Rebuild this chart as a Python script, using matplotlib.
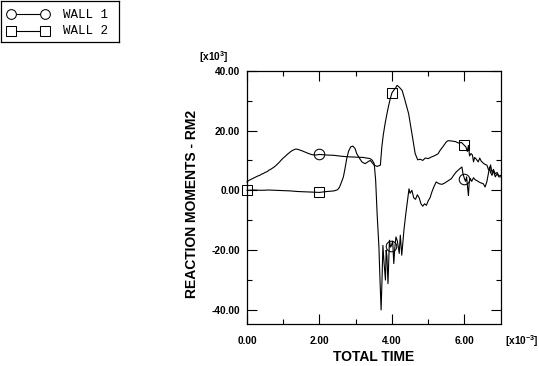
import matplotlib
matplotlib.use("Agg")
import matplotlib.pyplot as plt
from matplotlib.lines import Line2D
import numpy as np

# ---- data (time in 1e-3, moment in 1e3) ----
wall1_t = [0.00, 0.05, 0.10, 0.15, 0.20, 0.25, 0.30, 0.35, 0.40, 0.45, 0.50, 0.55,
           0.60, 0.65, 0.70, 0.75, 0.80, 0.85, 0.90, 0.95, 1.00, 1.05, 1.10, 1.15,
           1.20, 1.25, 1.30, 1.35, 1.40, 1.45, 1.50, 1.60, 1.70, 1.80, 1.90, 2.00,
           2.10, 2.20, 2.40, 2.60, 2.80, 3.00, 3.20, 3.40, 3.46, 3.51, 3.55, 3.59,
           3.64, 3.67, 3.70, 3.73, 3.75, 3.78, 3.82, 3.84, 3.86, 3.89, 3.93, 3.96,
           3.98, 4.02, 4.05, 4.08, 4.11, 4.15, 4.20, 4.23, 4.27, 4.33, 4.38, 4.43,
           4.47, 4.50, 4.55, 4.60, 4.65, 4.70, 4.75, 4.80, 4.85, 4.90, 4.95, 5.00,
           5.05, 5.10, 5.15, 5.22, 5.30, 5.38, 5.45, 5.55, 5.64, 5.70, 5.77, 5.85,
           5.93, 5.96, 6.00, 6.03, 6.06, 6.09, 6.11, 6.13, 6.16, 6.20, 6.25, 6.30,
           6.35, 6.40, 6.45, 6.52, 6.57, 6.62, 6.66, 6.69, 6.72, 6.76, 6.80, 6.85,
           6.90, 6.95, 7.00]
wall1_m = [2.8, 3.3, 3.6, 3.9, 4.2, 4.5, 4.8, 5.0, 5.4, 5.6, 6.0, 6.2,
           6.7, 7.0, 7.4, 7.8, 8.3, 8.9, 9.5, 10.2, 10.8, 11.3, 11.9, 12.4,
           12.9, 13.3, 13.6, 13.8, 13.7, 13.5, 13.3, 12.8, 12.3, 11.9, 11.8, 12.0,
           11.9, 11.8, 11.7, 11.4, 11.2, 11.1, 11.0, 10.6, 10.0, 8.9, 3.3, -7.8,
           -19.0, -30.0, -40.0, -28.0, -18.4, -24.0, -30.0, -20.0, -22.0, -31.2, -16.7, -19.0,
           -18.6, -17.0, -24.5, -19.0, -15.6, -17.0, -21.1, -15.0, -21.7, -13.3, -8.0, -3.3,
           0.5, -1.0, 0.0, -2.5, -3.0, -1.5, -2.5, -4.5, -5.3, -4.5, -5.0, -3.5,
           -2.5, -0.6, 1.0, 2.8, 2.2, 2.0, 2.4, 3.2, 3.9, 5.0, 6.1, 7.0,
           7.8, 5.5, 3.9, 3.0, 4.5, 0.5, -1.7, 2.5, 4.0, 3.0, 4.2, 3.5,
           3.2, 2.8, 2.5, 2.2, 1.1, 3.0, 5.6, 7.8, 6.0, 5.0, 6.5, 4.5,
           5.5, 4.5, 4.5]
wall1_marks = [2.00, 3.98, 6.00]

wall2_t = [0.00, 0.20, 0.40, 0.60, 0.80, 1.00, 1.20, 1.40, 1.60, 1.80, 2.00, 2.20,
           2.40, 2.50, 2.55, 2.60, 2.66, 2.70, 2.75, 2.80, 2.86, 2.92, 2.98, 3.03,
           3.10, 3.17, 3.26, 3.33, 3.40, 3.51, 3.59, 3.68, 3.72, 3.76, 3.81, 3.86,
           3.90, 3.95, 4.00, 4.05, 4.10, 4.14, 4.20, 4.28, 4.35, 4.46, 4.55, 4.64,
           4.71, 4.78, 4.85, 4.92, 5.00, 5.08, 5.18, 5.27, 5.33, 5.40, 5.50, 5.55,
           5.64, 5.75, 5.84, 5.92, 6.00, 6.04, 6.08, 6.11, 6.14, 6.18, 6.22, 6.25,
           6.28, 6.32, 6.38, 6.42, 6.46, 6.50, 6.55, 6.62, 6.66, 6.69, 6.72, 6.76,
           6.80, 6.85, 6.90, 6.95, 7.00]
wall2_m = [0.0, 0.1, 0.0, 0.1, 0.0, -0.1, -0.2, -0.4, -0.5, -0.6, -0.7, -0.4,
           -0.2, 0.2, 1.0, 2.5, 4.5, 7.0, 10.5, 13.0, 14.5, 14.8, 14.0, 12.2,
           10.8, 9.5, 8.9, 9.5, 10.0, 8.4, 8.0, 8.4, 14.5, 18.5, 22.3, 25.5,
           27.9, 30.5, 32.6, 33.5, 34.2, 35.1, 34.5, 33.4, 30.5, 25.6, 19.0, 12.3,
           10.2, 10.4, 10.0, 10.8, 10.6, 11.1, 11.6, 12.2, 13.4, 14.5, 16.2, 16.6,
           16.5, 16.3, 15.8, 16.0, 15.0, 14.5, 13.0, 15.0, 11.5, 12.3, 11.8, 9.5,
           11.0, 10.5, 9.5, 10.8, 9.8, 9.3, 8.8, 8.4, 7.0, 6.7, 8.5, 6.0,
           7.0, 5.5, 6.0, 4.8, 5.0]
wall2_marks = [0.00, 2.00, 4.00, 6.00]

series_labels = ["WALL 1", "WALL 2"]
x_ticks = [0, 2, 4, 6]
x_ticklabels = ["0.00", "2.00", "4.00", "6.00"]
y_ticks = [-40, -20, 0, 20, 40]
y_ticklabels = ["-40.00", "-20.00", "0.00", "20.00", "40.00"]

plt.rcParams['mathtext.default'] = 'regular'
W, H = 539, 366
fig = plt.figure(figsize=(W / 100, H / 100), dpi=100)

def fx(px):
    return px / W

def fy(py):
    return 1 - py / H

ax_l, ax_r, ax_t, ax_b = 247, 500.7, 70.7, 324
ax = fig.add_axes([fx(ax_l), fy(ax_b), fx(ax_r - ax_l), (ax_b - ax_t) / H])

lw = 0.8
idx1 = [wall1_t.index(v) for v in wall1_marks]
idx2 = [wall2_t.index(v) for v in wall2_marks]
ax.plot(wall1_t, wall1_m, color='black', lw=lw, marker='o', ms=7.6,
        mfc='none', mec='black', mew=0.75, markevery=idx1, clip_on=False)
ax.plot(wall2_t, wall2_m, color='black', lw=lw, marker='s', ms=7.8,
        mfc='none', mec='black', mew=0.75, markevery=idx2, clip_on=False)

ax.set_xlim(0, 7.0)
ax.set_ylim(-44.7, 40)
ax.set_xticks(x_ticks)
ax.set_xticklabels(x_ticklabels)
ax.set_yticks(y_ticks)
ax.set_yticklabels(y_ticklabels)
ax.set_xticks([1, 3, 5], minor=True)
ax.set_yticks([-30, -10, 10, 30], minor=True)

tickfont = dict(family='Liberation Sans', weight='bold', size=7.3)
for lab in ax.get_xticklabels() + ax.get_yticklabels():
    lab.set_fontfamily('Liberation Sans')
    lab.set_fontweight('bold')
    lab.set_fontsize(7.3)
ax.tick_params(which='both', direction='in', top=True, right=True, width=0.8, color='black')
ax.tick_params(which='major', length=7.2)
ax.tick_params(which='minor', length=3.6)
ax.tick_params(axis='x', which='major', pad=9.0)
ax.tick_params(axis='y', which='major', pad=5.0)
for s in ax.spines.values():
    s.set_linewidth(0.9)
    s.set_color('black')

fig.text(fx(214), fy(57), '[x10$^{3}$]', ha='center', va='center', **tickfont)
fig.text(fx(522), fy(341), '[x10$^{-3}$]', ha='center', va='center', **tickfont)

labfont = dict(family='Liberation Sans', weight='bold', size=10)
fig.text(fx(373.8), fy(357), 'TOTAL TIME', ha='center', va='center', **labfont)
fig.text(fx(192), fy(204), 'REACTION MOMENTS - RM2', ha='center', va='center',
         rotation=90, **labfont)

# ---- legend box ----
lg = fig.add_axes([fx(1), fy(41.7), fx(118), 40.7 / H])
lg.set_xlim(1, 119)
lg.set_ylim(41.7, 1)
lg.set_xticks([])
lg.set_yticks([])
for s in lg.spines.values():
    s.set_linewidth(0.9)
    s.set_color('black')
lg.patch.set_alpha(0)
rows = [(14.3, 'o', 7.0), (30.7, 's', 7.2)]
for (yy, mk, ms), lab in zip(rows, series_labels):
    lg.add_line(Line2D([10.5, 45], [yy, yy], color='black', lw=lw, marker=mk, ms=ms,
                       mfc='white', mec='black', mew=0.75))
    lg.text(63, yy + 0.8, lab, ha='left', va='center', family='Liberation Mono', size=9)

fig.savefig('out.png', dpi=100)
